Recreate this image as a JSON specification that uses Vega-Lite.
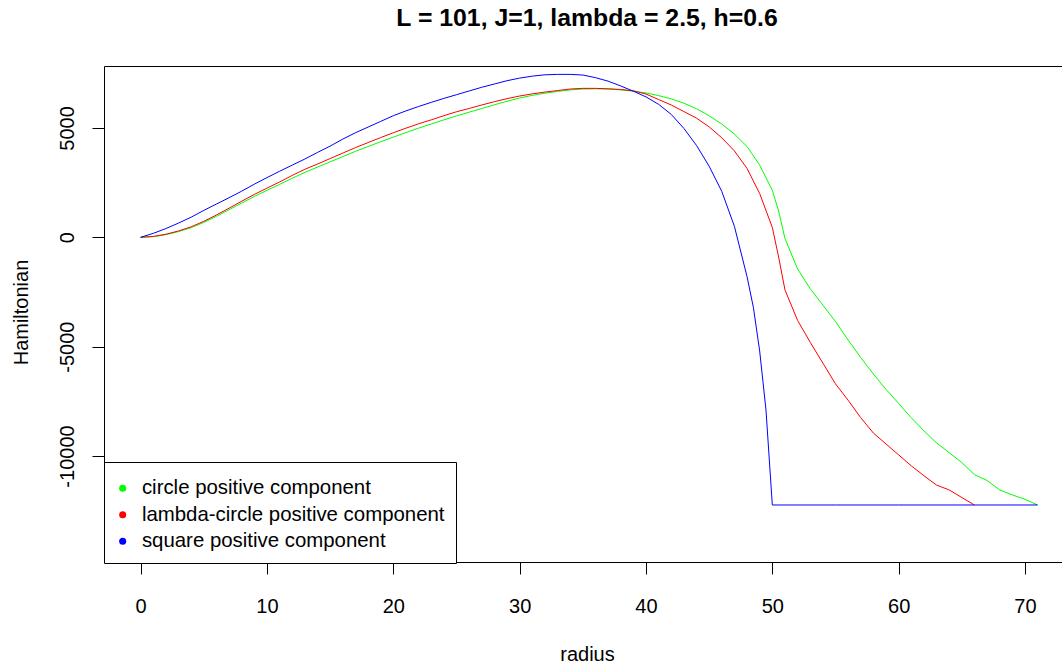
{
  "$schema": "https://vega.github.io/schema/vega-lite/v6.json",
  "width": 958,
  "height": 496,
  "autosize": {"type": "none"},
  "padding": {"left": 104, "top": 66, "right": 0, "bottom": 103},
  "background": "white",
  "title": {
    "text": "L = 101, J=1, lambda = 2.5, h=0.6",
    "font": "Liberation Sans",
    "fontSize": 24.8,
    "fontWeight": "bold",
    "color": "black",
    "anchor": "middle",
    "frame": "group",
    "baseline": "alphabetic",
    "offset": 15,
    "dx": 4
  },
  "datasets": {
    "curves": [
      {"series": "circle positive component", "r": 0, "H": 0},
      {"series": "circle positive component", "r": 1, "H": 30},
      {"series": "circle positive component", "r": 2, "H": 120},
      {"series": "circle positive component", "r": 3, "H": 260},
      {"series": "circle positive component", "r": 4, "H": 440},
      {"series": "circle positive component", "r": 5, "H": 680},
      {"series": "circle positive component", "r": 6, "H": 960},
      {"series": "circle positive component", "r": 7, "H": 1260},
      {"series": "circle positive component", "r": 8, "H": 1570},
      {"series": "circle positive component", "r": 9, "H": 1870},
      {"series": "circle positive component", "r": 10, "H": 2150},
      {"series": "circle positive component", "r": 11, "H": 2420},
      {"series": "circle positive component", "r": 12, "H": 2700},
      {"series": "circle positive component", "r": 13, "H": 2970},
      {"series": "circle positive component", "r": 14, "H": 3210},
      {"series": "circle positive component", "r": 15, "H": 3450},
      {"series": "circle positive component", "r": 16, "H": 3690},
      {"series": "circle positive component", "r": 17, "H": 3930},
      {"series": "circle positive component", "r": 18, "H": 4150},
      {"series": "circle positive component", "r": 19, "H": 4370},
      {"series": "circle positive component", "r": 20, "H": 4580},
      {"series": "circle positive component", "r": 21, "H": 4790},
      {"series": "circle positive component", "r": 22, "H": 4990},
      {"series": "circle positive component", "r": 23, "H": 5180},
      {"series": "circle positive component", "r": 24, "H": 5370},
      {"series": "circle positive component", "r": 25, "H": 5550},
      {"series": "circle positive component", "r": 26, "H": 5720},
      {"series": "circle positive component", "r": 27, "H": 5890},
      {"series": "circle positive component", "r": 28, "H": 6060},
      {"series": "circle positive component", "r": 29, "H": 6220},
      {"series": "circle positive component", "r": 30, "H": 6370},
      {"series": "circle positive component", "r": 31, "H": 6490},
      {"series": "circle positive component", "r": 32, "H": 6590},
      {"series": "circle positive component", "r": 33, "H": 6670},
      {"series": "circle positive component", "r": 34, "H": 6740},
      {"series": "circle positive component", "r": 35, "H": 6780},
      {"series": "circle positive component", "r": 36, "H": 6790},
      {"series": "circle positive component", "r": 37, "H": 6780},
      {"series": "circle positive component", "r": 38, "H": 6740},
      {"series": "circle positive component", "r": 39, "H": 6680},
      {"series": "circle positive component", "r": 40, "H": 6600},
      {"series": "circle positive component", "r": 41, "H": 6480},
      {"series": "circle positive component", "r": 42, "H": 6330},
      {"series": "circle positive component", "r": 43, "H": 6130},
      {"series": "circle positive component", "r": 44, "H": 5880},
      {"series": "circle positive component", "r": 45, "H": 5560},
      {"series": "circle positive component", "r": 46, "H": 5180},
      {"series": "circle positive component", "r": 47, "H": 4720},
      {"series": "circle positive component", "r": 48, "H": 4150},
      {"series": "circle positive component", "r": 49, "H": 3300},
      {"series": "circle positive component", "r": 50, "H": 2150},
      {"series": "circle positive component", "r": 50.5, "H": 1200},
      {"series": "circle positive component", "r": 51, "H": -50},
      {"series": "circle positive component", "r": 52, "H": -1450},
      {"series": "circle positive component", "r": 53, "H": -2350},
      {"series": "circle positive component", "r": 54, "H": -3100},
      {"series": "circle positive component", "r": 55, "H": -3850},
      {"series": "circle positive component", "r": 56, "H": -4700},
      {"series": "circle positive component", "r": 57, "H": -5500},
      {"series": "circle positive component", "r": 58, "H": -6250},
      {"series": "circle positive component", "r": 59, "H": -6950},
      {"series": "circle positive component", "r": 60, "H": -7600},
      {"series": "circle positive component", "r": 61, "H": -8250},
      {"series": "circle positive component", "r": 62, "H": -8850},
      {"series": "circle positive component", "r": 63, "H": -9400},
      {"series": "circle positive component", "r": 64, "H": -9850},
      {"series": "circle positive component", "r": 65, "H": -10300},
      {"series": "circle positive component", "r": 66, "H": -10850},
      {"series": "circle positive component", "r": 67, "H": -11120},
      {"series": "circle positive component", "r": 68, "H": -11550},
      {"series": "circle positive component", "r": 69, "H": -11780},
      {"series": "circle positive component", "r": 70, "H": -11980},
      {"series": "circle positive component", "r": 71, "H": -12240},

      {"series": "lambda-circle positive component", "r": 0, "H": 0},
      {"series": "lambda-circle positive component", "r": 1, "H": 40},
      {"series": "lambda-circle positive component", "r": 2, "H": 140},
      {"series": "lambda-circle positive component", "r": 3, "H": 290},
      {"series": "lambda-circle positive component", "r": 4, "H": 480},
      {"series": "lambda-circle positive component", "r": 5, "H": 730},
      {"series": "lambda-circle positive component", "r": 6, "H": 1020},
      {"series": "lambda-circle positive component", "r": 7, "H": 1330},
      {"series": "lambda-circle positive component", "r": 8, "H": 1650},
      {"series": "lambda-circle positive component", "r": 9, "H": 1960},
      {"series": "lambda-circle positive component", "r": 10, "H": 2250},
      {"series": "lambda-circle positive component", "r": 11, "H": 2530},
      {"series": "lambda-circle positive component", "r": 12, "H": 2830},
      {"series": "lambda-circle positive component", "r": 13, "H": 3110},
      {"series": "lambda-circle positive component", "r": 14, "H": 3350},
      {"series": "lambda-circle positive component", "r": 15, "H": 3600},
      {"series": "lambda-circle positive component", "r": 16, "H": 3850},
      {"series": "lambda-circle positive component", "r": 17, "H": 4100},
      {"series": "lambda-circle positive component", "r": 18, "H": 4330},
      {"series": "lambda-circle positive component", "r": 19, "H": 4560},
      {"series": "lambda-circle positive component", "r": 20, "H": 4780},
      {"series": "lambda-circle positive component", "r": 21, "H": 4990},
      {"series": "lambda-circle positive component", "r": 22, "H": 5190},
      {"series": "lambda-circle positive component", "r": 23, "H": 5370},
      {"series": "lambda-circle positive component", "r": 24, "H": 5560},
      {"series": "lambda-circle positive component", "r": 25, "H": 5740},
      {"series": "lambda-circle positive component", "r": 26, "H": 5890},
      {"series": "lambda-circle positive component", "r": 27, "H": 6050},
      {"series": "lambda-circle positive component", "r": 28, "H": 6200},
      {"series": "lambda-circle positive component", "r": 29, "H": 6340},
      {"series": "lambda-circle positive component", "r": 30, "H": 6460},
      {"series": "lambda-circle positive component", "r": 31, "H": 6560},
      {"series": "lambda-circle positive component", "r": 32, "H": 6640},
      {"series": "lambda-circle positive component", "r": 33, "H": 6710},
      {"series": "lambda-circle positive component", "r": 34, "H": 6780},
      {"series": "lambda-circle positive component", "r": 35, "H": 6810},
      {"series": "lambda-circle positive component", "r": 36, "H": 6810},
      {"series": "lambda-circle positive component", "r": 37, "H": 6790},
      {"series": "lambda-circle positive component", "r": 38, "H": 6760},
      {"series": "lambda-circle positive component", "r": 39, "H": 6700},
      {"series": "lambda-circle positive component", "r": 40, "H": 6550},
      {"series": "lambda-circle positive component", "r": 41, "H": 6300},
      {"series": "lambda-circle positive component", "r": 42, "H": 6050},
      {"series": "lambda-circle positive component", "r": 43, "H": 5750},
      {"series": "lambda-circle positive component", "r": 44, "H": 5450},
      {"series": "lambda-circle positive component", "r": 45, "H": 5050},
      {"series": "lambda-circle positive component", "r": 46, "H": 4550},
      {"series": "lambda-circle positive component", "r": 47, "H": 3950},
      {"series": "lambda-circle positive component", "r": 48, "H": 3150},
      {"series": "lambda-circle positive component", "r": 49, "H": 2000},
      {"series": "lambda-circle positive component", "r": 50, "H": 450},
      {"series": "lambda-circle positive component", "r": 50.5, "H": -900},
      {"series": "lambda-circle positive component", "r": 51, "H": -2400},
      {"series": "lambda-circle positive component", "r": 52, "H": -3800},
      {"series": "lambda-circle positive component", "r": 53, "H": -4800},
      {"series": "lambda-circle positive component", "r": 54, "H": -5750},
      {"series": "lambda-circle positive component", "r": 55, "H": -6700},
      {"series": "lambda-circle positive component", "r": 56, "H": -7450},
      {"series": "lambda-circle positive component", "r": 57, "H": -8250},
      {"series": "lambda-circle positive component", "r": 58, "H": -8950},
      {"series": "lambda-circle positive component", "r": 59, "H": -9450},
      {"series": "lambda-circle positive component", "r": 60, "H": -9950},
      {"series": "lambda-circle positive component", "r": 61, "H": -10450},
      {"series": "lambda-circle positive component", "r": 62, "H": -10900},
      {"series": "lambda-circle positive component", "r": 63, "H": -11330},
      {"series": "lambda-circle positive component", "r": 64, "H": -11550},
      {"series": "lambda-circle positive component", "r": 65, "H": -11900},
      {"series": "lambda-circle positive component", "r": 66, "H": -12240},

      {"series": "square positive component", "r": 0, "H": 0},
      {"series": "square positive component", "r": 1, "H": 180},
      {"series": "square positive component", "r": 2, "H": 400},
      {"series": "square positive component", "r": 3, "H": 650},
      {"series": "square positive component", "r": 4, "H": 920},
      {"series": "square positive component", "r": 5, "H": 1230},
      {"series": "square positive component", "r": 6, "H": 1520},
      {"series": "square positive component", "r": 7, "H": 1810},
      {"series": "square positive component", "r": 8, "H": 2110},
      {"series": "square positive component", "r": 9, "H": 2430},
      {"series": "square positive component", "r": 10, "H": 2730},
      {"series": "square positive component", "r": 11, "H": 3020},
      {"series": "square positive component", "r": 12, "H": 3300},
      {"series": "square positive component", "r": 13, "H": 3580},
      {"series": "square positive component", "r": 14, "H": 3880},
      {"series": "square positive component", "r": 15, "H": 4170},
      {"series": "square positive component", "r": 16, "H": 4490},
      {"series": "square positive component", "r": 17, "H": 4780},
      {"series": "square positive component", "r": 18, "H": 5040},
      {"series": "square positive component", "r": 19, "H": 5300},
      {"series": "square positive component", "r": 20, "H": 5560},
      {"series": "square positive component", "r": 21, "H": 5780},
      {"series": "square positive component", "r": 22, "H": 5980},
      {"series": "square positive component", "r": 23, "H": 6170},
      {"series": "square positive component", "r": 24, "H": 6350},
      {"series": "square positive component", "r": 25, "H": 6520},
      {"series": "square positive component", "r": 26, "H": 6690},
      {"series": "square positive component", "r": 27, "H": 6860},
      {"series": "square positive component", "r": 28, "H": 7010},
      {"series": "square positive component", "r": 29, "H": 7160},
      {"series": "square positive component", "r": 30, "H": 7280},
      {"series": "square positive component", "r": 31, "H": 7370},
      {"series": "square positive component", "r": 32, "H": 7430},
      {"series": "square positive component", "r": 33, "H": 7450},
      {"series": "square positive component", "r": 34, "H": 7450},
      {"series": "square positive component", "r": 35, "H": 7420},
      {"series": "square positive component", "r": 36, "H": 7300},
      {"series": "square positive component", "r": 37, "H": 7140},
      {"series": "square positive component", "r": 38, "H": 6920},
      {"series": "square positive component", "r": 39, "H": 6680},
      {"series": "square positive component", "r": 40, "H": 6420},
      {"series": "square positive component", "r": 41, "H": 6080},
      {"series": "square positive component", "r": 42, "H": 5620},
      {"series": "square positive component", "r": 43, "H": 4980},
      {"series": "square positive component", "r": 44, "H": 4200},
      {"series": "square positive component", "r": 45, "H": 3250},
      {"series": "square positive component", "r": 46, "H": 2100},
      {"series": "square positive component", "r": 47, "H": 500},
      {"series": "square positive component", "r": 48, "H": -1800},
      {"series": "square positive component", "r": 48.5, "H": -3200},
      {"series": "square positive component", "r": 49, "H": -5200},
      {"series": "square positive component", "r": 49.5, "H": -7900},
      {"series": "square positive component", "r": 50, "H": -12240},
      {"series": "square positive component", "r": 55, "H": -12240},
      {"series": "square positive component", "r": 60, "H": -12240},
      {"series": "square positive component", "r": 65, "H": -12240},
      {"series": "square positive component", "r": 71, "H": -12240}
    ]
  },
  "data": {"name": "curves"},
  "mark": {"type": "line", "strokeWidth": 1, "clip": true},
  "encoding": {
    "x": {
      "field": "r",
      "type": "quantitative",
      "scale": {"domain": [-2.9, 72.93], "nice": false, "zero": false},
      "axis": {
        "title": "radius",
        "values": [0, 10, 20, 30, 40, 50, 60, 70],
        "labelBaseline": "alphabetic",
        "labelPadding": 38,
        "labelFlush": false,
        "labelOverlap": false,
        "titleBaseline": "alphabetic",
        "titleAlign": "center",
        "titleX": 483,
        "titleY": 98
      }
    },
    "y": {
      "field": "H",
      "type": "quantitative",
      "scale": {"domain": [-14847, 7833], "nice": false, "zero": false},
      "axis": {
        "title": "Hamiltonian",
        "values": [-10000, -5000, 0, 5000],
        "labelExpr": "'' + datum.value",
        "labelAngle": 270,
        "labelAlign": "center",
        "labelBaseline": "alphabetic",
        "labelPadding": 19,
        "labelFlush": false,
        "labelOverlap": false,
        "titleAngle": 270,
        "titleAlign": "center",
        "titleBaseline": "alphabetic",
        "titleX": -77,
        "titleY": 246
      }
    },
    "color": {
      "field": "series",
      "type": "nominal",
      "scale": {
        "domain": ["circle positive component", "lambda-circle positive component", "square positive component"],
        "range": ["#00ff00", "#ff0000", "#0000ff"]
      },
      "legend": {
        "orient": "none",
        "legendX": 0,
        "legendY": 396,
        "title": " ",
        "titleFontSize": 5,
        "titlePadding": 0,
        "strokeColor": "black",
        "fillColor": "white",
        "padding": 11,
        "labelFont": "Liberation Sans",
        "labelFontSize": 20.4,
        "labelColor": "black",
        "labelOffset": 9,
        "symbolOffset": -2.5,
        "symbolType": "circle",
        "symbolSize": 50,
        "rowPadding": 5.5,
        "labelLimit": 400,
        "encode": {
          "symbols": {
            "update": {
              "fill": {"scale": "color", "field": "value"},
              "fillOpacity": {"value": 1},
              "strokeOpacity": {"value": 0}
            }
          }
        }
      }
    }
  },
  "config": {
    "view": {"stroke": "black", "strokeWidth": 1},
    "axis": {
      "grid": false,
      "domain": false,
      "ticks": true,
      "tickColor": "black",
      "tickSize": 12,
      "tickWidth": 1,
      "labelFont": "Liberation Sans",
      "labelFontSize": 20,
      "labelColor": "black",
      "titleFont": "Liberation Sans",
      "titleFontSize": 20,
      "titleFontWeight": "normal",
      "titleColor": "black"
    }
  }
}
